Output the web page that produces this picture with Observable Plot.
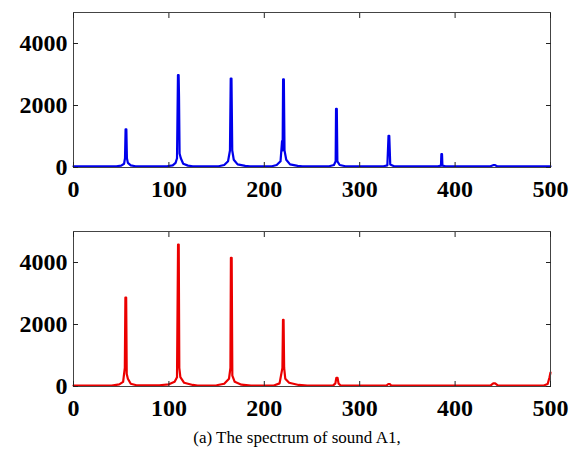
<!DOCTYPE html>
<html><head><meta charset="utf-8">
<script src="https://cdn.jsdelivr.net/npm/d3@7"></script>
<script src="https://cdn.jsdelivr.net/npm/@observablehq/plot@0.6"></script>
<style>
body{margin:0;background:#fff;}
#wrap{width:576px;}
#wrap svg{display:block;overflow:visible;}
#caption{width:576px;box-sizing:border-box;padding-left:18px;text-align:center;font-family:"Liberation Serif","Times New Roman",serif;font-size:17px;line-height:36px;color:#000;}
</style>
</head><body>
<div id="wrap"></div>
<div id="caption">(a) The spectrum of sound A1,</div>
<script>
const xTicks = [0, 100, 200, 300, 400, 500];
const yTicks = [0, 2000, 4000];

const blueFreq = [0, 45, 50, 53, 54, 54.6, 55.4, 56, 57, 60, 65,
  98, 104, 107, 108.5, 109.5, 110.2, 110.6, 111.2, 112.5, 115, 120, 125,
  152, 158, 162, 164, 164.8, 165.6, 166.4, 168, 172, 180, 185,
  208, 213, 217, 218.6, 219.2, 219.7, 220.5, 221.2, 223, 227, 235, 240,
  268, 273, 274.8, 275.2, 276, 276.6, 279, 285,
  325, 329, 330.2, 331, 332, 336,
  382, 385.2, 385.6, 386.3, 386.7, 390,
  437, 440.5, 441.5, 444, 500];
const blueAmp = [40, 40, 60, 120, 300, 1230, 1230, 300, 150, 70, 40,
  40, 70, 150, 300, 2980, 2980, 2300, 450, 300, 120, 60, 40,
  40, 80, 200, 550, 2870, 2870, 550, 250, 100, 50, 40,
  40, 80, 200, 850, 550, 2840, 2840, 550, 250, 100, 50, 40,
  40, 80, 200, 1890, 1890, 200, 80, 40,
  40, 70, 1020, 1020, 100, 40,
  40, 60, 430, 430, 60, 40,
  40, 80, 80, 40, 40];

const redFreq = [0, 40, 48, 52, 53.8, 54.4, 55.2, 55.8, 57, 60, 66,
  90, 100, 106, 108.5, 109.6, 110.3, 110.9, 112, 116, 125, 130,
  150, 158, 163, 164.5, 165, 165.8, 166.5, 169, 176, 186,
  210, 216, 219, 219.6, 220.2, 220.8, 222, 226, 236, 245,
  272, 274.5, 275.5, 276.8, 277.8, 280,
  328, 330, 331.5, 333,
  437, 440, 442, 445,
  493, 497, 499, 500];
const redAmp = [30, 30, 70, 150, 600, 2870, 2870, 400, 250, 90, 40,
  40, 70, 150, 300, 4580, 4580, 600, 300, 120, 50, 30,
  40, 90, 250, 600, 4150, 4150, 350, 150, 60, 30,
  30, 100, 600, 2150, 2150, 600, 250, 120, 50, 30,
  30, 100, 280, 280, 100, 30,
  30, 80, 80, 30,
  30, 100, 100, 30,
  30, 80, 300, 450];

function panel(freq, amp, color, height, mt, mb) {
  const data = freq.map((f, i) => ({f, a: amp[i]}));
  return Plot.plot({
    width: 576, height, marginLeft: 73, marginRight: 26, marginTop: mt, marginBottom: mb,
    style: {fontFamily: "'Liberation Serif','Times New Roman',serif", fontSize: "24px", fontWeight: "bold", color: "#000", background: "#fff", overflow: "visible"},
    x: {domain: [0, 500]},
    y: {domain: [0, 5000]},
    marks: [
      Plot.line(data, {x: "f", y: "a", stroke: color, strokeWidth: 2.2}),
      Plot.frame({stroke: "#444", strokeWidth: 1}),
      Plot.axisX(xTicks, {anchor: "bottom", tickSize: -5, tickPadding: 17, tickFormat: d => String(d), label: null, stroke: "#222"}),
      Plot.axisX(xTicks, {anchor: "top", tickSize: -5, tickFormat: () => "", label: null, stroke: "#222"}),
      Plot.axisY(yTicks, {anchor: "left", tickSize: -5, tickPadding: 11, tickFormat: d => String(d), label: null, stroke: "#222"}),
      Plot.axisY(yTicks, {anchor: "right", tickSize: -5, tickFormat: () => "", label: null, stroke: "#222"})
    ]
  });
}
const wrap = document.getElementById("wrap");
wrap.appendChild(panel(blueFreq, blueAmp, "rgb(0,0,235)", 205, 12, 38));
wrap.appendChild(panel(redFreq, redAmp, "rgb(235,0,0)", 215, 26, 34));
</script>
</body></html>
